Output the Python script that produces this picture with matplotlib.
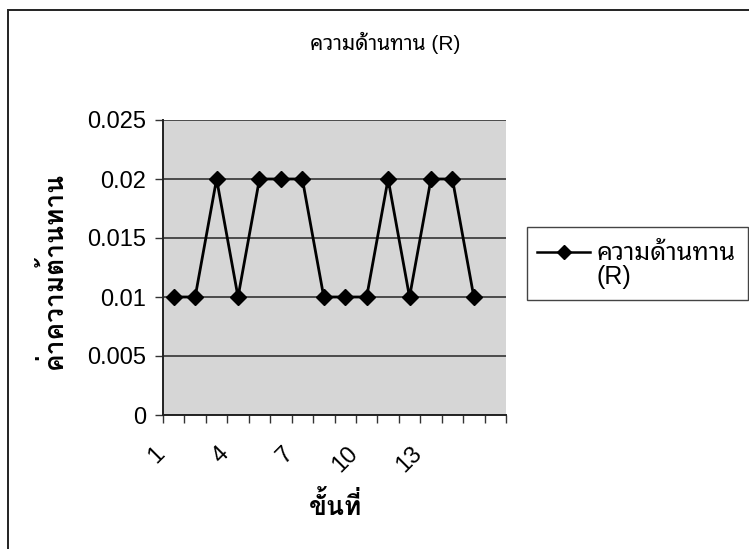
import matplotlib
matplotlib.use("Agg")
import matplotlib.pyplot as plt
from matplotlib.patches import Rectangle
from matplotlib.lines import Line2D
from matplotlib.transforms import ScaledTranslation

FONT = ["Liberation Sans", "Noto Sans Thai Looped", "DejaVu Sans"]
FONT_BOLD = ["Liberation Sans", "Loma", "Noto Sans Thai Looped", "DejaVu Sans"]
plt.rcParams["font.family"] = FONT

# resistance per step (16 categories, the last one has no reading)
steps = list(range(1, 16))
resistance = [0.01, 0.01, 0.02, 0.01, 0.02, 0.02, 0.02, 0.01,
              0.01, 0.01, 0.02, 0.01, 0.02, 0.02, 0.01]
n_categories = 16
xtick_labels = [1, 4, 7, 10, 13]
yticks = [0, 0.005, 0.01, 0.015, 0.02, 0.025]

title = "ความด้านทาน (R)"
series_name = "ความด้านทาน\n(R)"
xlabel = "ขั้นที่"
ylabel = "ค่าความต้านทาน"

W, H = 749, 549
fig = plt.figure(figsize=(W / 100, H / 100), dpi=100)
fig.patch.set_facecolor("white")

def fx(px):
    return px / W

def fy(py):
    return 1 - py / H

# chart frame
fig.patches.append(Rectangle((fx(8), fy(560)), fx(760) - fx(8), fy(10) - fy(560),
                             transform=fig.transFigure, fill=False,
                             edgecolor="#222222", linewidth=1.4))

ax = fig.add_axes([fx(163), fy(415), fx(506) - fx(163), fy(120) - fy(415)])
ax.set_facecolor("#d6d6d6")
ax.plot(steps, resistance, color="black", linewidth=2.0, marker="D",
        markersize=8.5, markerfacecolor="black", markeredgecolor="black",
        zorder=3)

ax.set_xlim(0.5, n_categories + 0.5)
ax.set_ylim(0, 0.025)
ax.set_yticks(yticks)
ax.set_yticklabels(["0", "0.005", "0.01", "0.015", "0.02", "0.025"])
ax.yaxis.grid(True, color="#333333", linewidth=1.2)
ax.set_axisbelow(True)

# category boundary ticks, labels on category centres
ax.set_xticks([i + 0.5 for i in range(n_categories + 1)])
ax.set_xticklabels([])
ax.set_xticks(xtick_labels, minor=True)
ax.set_xticklabels([str(v) for v in xtick_labels], minor=True, rotation=45,
                   ha="right", va="top", rotation_mode="anchor")
ax.tick_params(axis="x", which="major", direction="out", length=6, width=1,
               color="#333333")
ax.tick_params(axis="x", which="minor", length=0, pad=20, labelsize=17)
ax.tick_params(axis="y", direction="out", length=6, width=1, labelsize=17,
               color="#333333", pad=6)
shift = ScaledTranslation(-20 / 100, 0, fig.dpi_scale_trans)
for lab in ax.get_xticklabels(minor=True):
    lab.set_transform(lab.get_transform() + shift)

for side in ["top", "right"]:
    ax.spines[side].set_visible(False)
for side in ["left", "bottom"]:
    ax.spines[side].set_color("#222222")
    ax.spines[side].set_linewidth(1.4)

fig.text(fx(385), fy(43), title, ha="center", va="center", fontsize=15)
fig.text(fx(335), fy(506), xlabel, ha="center", va="center", fontsize=19,
         fontweight="bold", family=FONT_BOLD)
fig.text(fx(52), fy(270), ylabel, ha="center", va="center", fontsize=19,
         fontweight="bold", rotation=90, family=FONT_BOLD)

# legend box
fig.patches.append(Rectangle((fx(527), fy(300)), fx(748) - fx(527), fy(227) - fy(300),
                             transform=fig.transFigure, fill=False,
                             edgecolor="#444444", linewidth=1.0))
fig.lines.append(Line2D([fx(537), fx(590)], [fy(252), fy(252)],
                        transform=fig.transFigure, color="black",
                        linewidth=1.8, marker=None))
fig.lines.append(Line2D([fx(564)], [fy(252)], transform=fig.transFigure,
                        color="black", marker="D", markersize=7,
                        linestyle="none"))
fig.text(fx(596), fy(265), series_name, ha="left", va="center", fontsize=18,
         linespacing=1.05)

fig.savefig("out.png", dpi=100)
